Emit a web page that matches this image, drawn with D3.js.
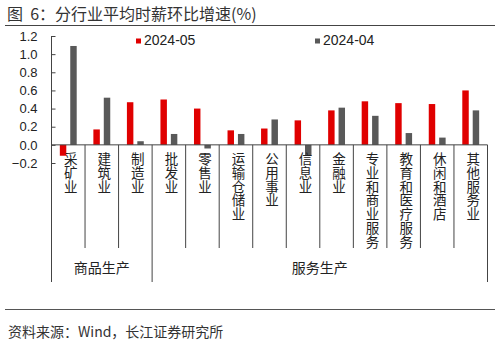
<!DOCTYPE html>
<html><head><meta charset="utf-8">
<script src="https://cdn.jsdelivr.net/npm/d3@7"></script>
<style>
body{margin:0;background:#fff;}
svg{display:block;font-family:"Noto Sans CJK SC","Liberation Sans",sans-serif;}
</style></head>
<body>
<svg id="c" width="500" height="342"></svg>
<script>
const categories = ["采矿业","建筑业","制造业","批发业","零售业","运输仓储业","公用事业","信息业","金融业","专业和商业服务","教育和医疗服务","休闲和酒店","其他服务业"];
const seriesNames = ["2024-05","2024-04"];
const may = [-0.12,0.17,0.47,0.50,0.40,0.16,0.18,0.27,0.38,0.48,0.46,0.45,0.60];
const apr = [1.09,0.52,0.04,0.12,-0.04,0.12,0.28,-0.12,0.41,0.32,0.13,0.08,0.38];
const yTicks = [-0.2,0,0.2,0.4,0.6,0.8,1.0,1.2];
const groups = [{name:"商品生产",from:0,to:2},{name:"服务生产",from:3,to:12}];
const colors = ["#E00000","#595959"];

const svg = d3.select("#c");
const L = 51.5, R = 487.5, T = 36, B = 163;
const x = d3.scaleBand().domain(categories).range([L,R]).padding(0);
const xi = d3.scaleBand().domain(seriesNames).range([0,x.bandwidth()]).paddingInner(0.38).paddingOuter(0.8);
const y = d3.scaleLinear().domain([-0.2,1.2]).range([B,T]);

// title
svg.append("text").attr("x",7).attr("y",20).attr("font-size",16).attr("fill","#333")
  .attr("xml:space","preserve").text("图  6：分行业平均时薪环比增速(%)");
svg.append("line").attr("x1",5).attr("x2",495).attr("y1",25.5).attr("y2",25.5).attr("stroke","#444").attr("stroke-width",1.2);

// bars
const data = categories.map((c,i)=>({c, v:[may[i],apr[i]]}));
const g = svg.append("g");
data.forEach(d=>{
  seriesNames.forEach((s,j)=>{
    const v = d.v[j];
    g.append("rect").attr("x",x(d.c)+xi(s)).attr("width",xi.bandwidth())
      .attr("y",y(Math.max(0,v))).attr("height",Math.abs(y(v)-y(0)))
      .attr("fill",colors[j]);
  });
});

// y axis
const ya = d3.axisRight(y).tickValues(yTicks).tickSize(4).tickFormat(d3.format(".1f"));
const yg = svg.append("g").attr("transform",`translate(${L},0)`).call(ya);
yg.select(".domain").remove();
yg.selectAll(".tick line").attr("stroke","#444");
yg.selectAll(".tick text").attr("x",-14).attr("text-anchor","end").attr("font-size",13)
  .attr("font-family","Liberation Sans, Arial, sans-serif").attr("fill","#222");
svg.append("line").attr("x1",L).attr("x2",L).attr("y1",T).attr("y2",282).attr("stroke","#444");

// x axis baseline
svg.append("line").attr("x1",L).attr("x2",R).attr("y1",y(0)).attr("y2",y(0)).attr("stroke","#444");
// category separators
categories.forEach((c,i)=>{
  if(i===0) return;
  const isGroup = groups.some(gr=>gr.from===i);
  svg.append("line").attr("x1",x(c)).attr("x2",x(c)).attr("y1",y(0)).attr("y2",isGroup?282:248).attr("stroke","#444");
});
svg.append("line").attr("x1",R).attr("x2",R).attr("y1",y(0)).attr("y2",282).attr("stroke","#444");

// category labels (vertical, one character per line)
categories.forEach(c=>{
  const cx = x(c)+x.bandwidth()/2+2.5;
  const t = svg.append("text").attr("font-size",13.5).attr("fill","#222").attr("text-anchor","middle");
  Array.from(c).forEach((ch,k)=>{
    t.append("tspan").attr("x",cx).attr("y",164 + k*13.8).text(ch);
  });
});
// group labels
groups.forEach(gr=>{
  const cx = (x(categories[gr.from]) + x(categories[gr.to])+x.bandwidth())/2;
  svg.append("text").attr("x",cx).attr("y",273).attr("text-anchor","middle")
    .attr("font-size",14).attr("fill","#222").text(gr.name);
});

// legend
const legX = [136,315];
seriesNames.forEach((s,j)=>{
  svg.append("rect").attr("x",legX[j]).attr("y",38.5).attr("width",5).attr("height",5).attr("fill",colors[j]);
  svg.append("text").attr("x",legX[j]+8).attr("y",44.5).attr("font-size",14)
    .attr("font-family","Liberation Sans, Arial, sans-serif").attr("fill","#222").text(s);
});

// footer
svg.append("line").attr("x1",5).attr("x2",495).attr("y1",309.5).attr("y2",309.5).attr("stroke","#555").attr("stroke-width",1);
svg.append("text").attr("x",8).attr("y",337).attr("font-size",14).attr("fill","#333").text("资料来源：Wind，长江证券研究所");
</script>
</body></html>
